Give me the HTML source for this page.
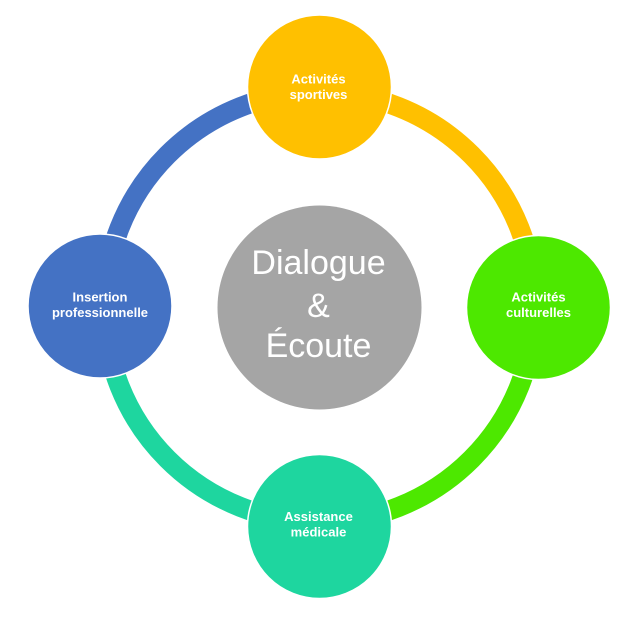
<!DOCTYPE html>
<html>
<head>
<meta charset="utf-8">
<style>
  html, body { margin: 0; padding: 0; background: #ffffff; }
  body { width: 639px; height: 621px; overflow: hidden; }
  svg { display: block; }
  .lbl { font-family: "Liberation Sans", Arial, sans-serif; font-weight: bold; font-size: 13px; fill: #ffffff; }
  .ctr { font-family: "Liberation Sans", Arial, sans-serif; font-size: 34px; fill: #ffffff; }
</style>
</head>
<body>
<svg width="639" height="621" viewBox="0 0 639 621" xmlns="http://www.w3.org/2000/svg">
  <rect x="0" y="0" width="639" height="621" fill="#ffffff"/>
  <!-- ring arcs -->
  <g fill="none" stroke-width="20">
    <path d="M 104.5 307 A 215 215 0 0 1 319.5 92" stroke="#4472C4"/>
    <path d="M 319.5 92 A 215 215 0 0 1 534.5 307" stroke="#FFC000"/>
    <path d="M 534.5 307 A 215 215 0 0 1 319.5 522" stroke="#4DE800"/>
    <path d="M 319.5 522 A 215 215 0 0 1 104.5 307" stroke="#1ED69F"/>
  </g>
  <!-- center -->
  <circle cx="319.5" cy="307.5" r="102" fill="#A5A5A5"/>
  <text class="ctr" x="318.5" y="274" text-anchor="middle">Dialogue</text>
  <text class="ctr" x="318.5" y="317" text-anchor="middle">&amp;</text>
  <text class="ctr" x="318.5" y="357" text-anchor="middle">Écoute</text>
  <!-- nodes -->
  <g stroke="#ffffff" stroke-width="1.5">
    <circle cx="319.5" cy="87" r="72" fill="#FFC000"/>
    <circle cx="538.5" cy="307.5" r="72" fill="#4DE800"/>
    <circle cx="319.5" cy="526.5" r="72" fill="#1ED69F"/>
    <circle cx="100" cy="306" r="72" fill="#4472C4"/>
  </g>
  <text class="lbl" x="318.5" y="83.5" text-anchor="middle">Activités</text>
  <text class="lbl" x="318.5" y="99" text-anchor="middle">sportives</text>
  <text class="lbl" x="538.5" y="301.5" text-anchor="middle">Activités</text>
  <text class="lbl" x="538.5" y="317" text-anchor="middle">culturelles</text>
  <text class="lbl" x="318.5" y="521" text-anchor="middle">Assistance</text>
  <text class="lbl" x="318.5" y="536.5" text-anchor="middle">médicale</text>
  <text class="lbl" x="100" y="301.5" text-anchor="middle">Insertion</text>
  <text class="lbl" x="100" y="317" text-anchor="middle">professionnelle</text>
</svg>
</body>
</html>
